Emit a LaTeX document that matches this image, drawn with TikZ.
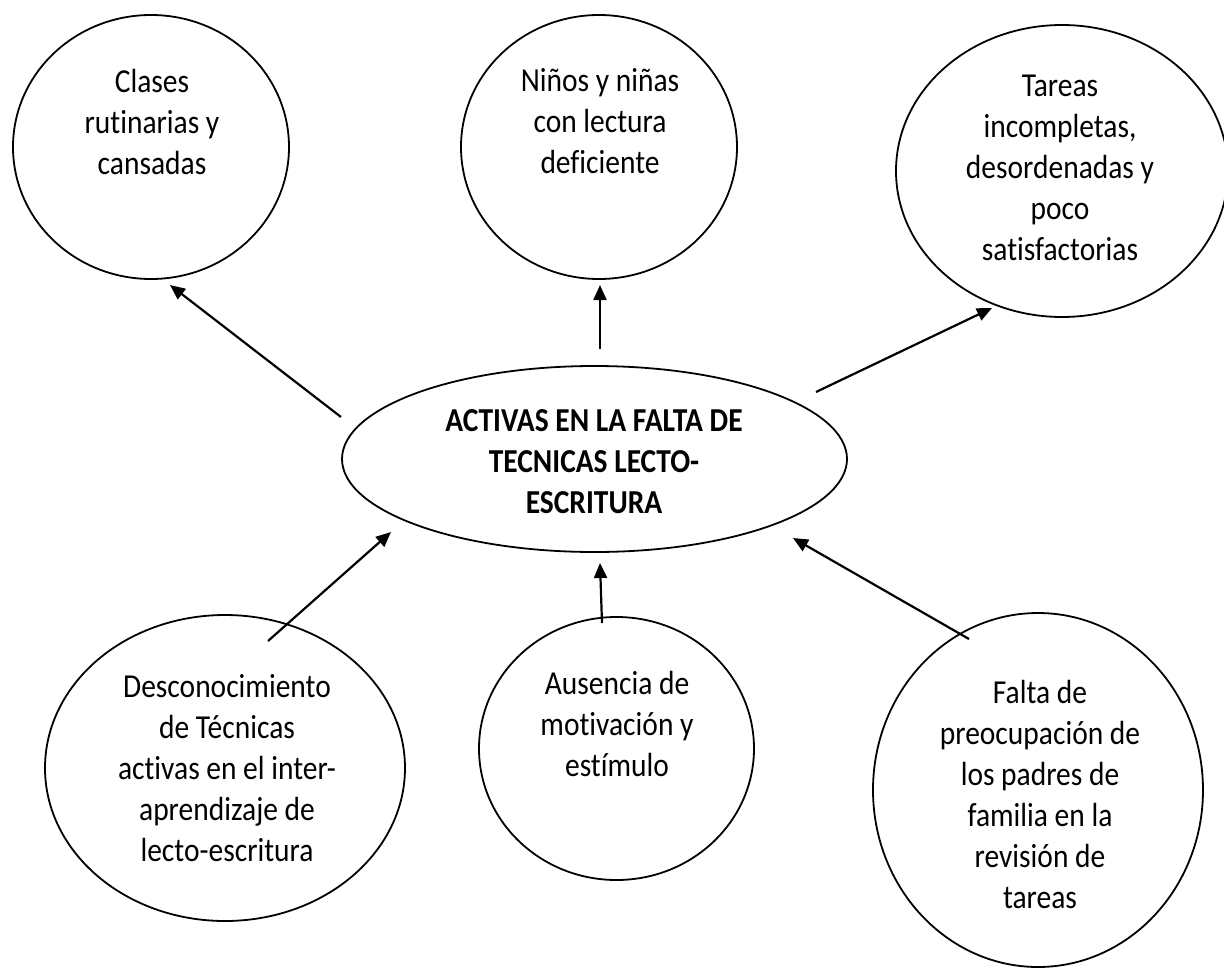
\documentclass[tikz,border=0pt]{standalone}
\usepackage{fontspec}
\setmainfont{Carlito}[FakeStretch=0.88, Ligatures=NoCommon]
\usetikzlibrary{shapes.geometric,arrows.meta}
\begin{document}
\begin{tikzpicture}[x=1pt,y=-1pt,
  bubble/.style={draw, ellipse, line width=1.8pt, inner sep=0pt},
  btext/.style={align=center, font=\fontsize{33.5pt}{41pt}\selectfont, inner sep=0pt},
  conn/.style={line width=2.2pt, -{Triangle[length=15pt,width=13pt]}}]
\useasboundingbox (0,0) rectangle (1224,969);
% bubbles
\node[bubble, minimum width=276pt, minimum height=264pt] (c1) at (151,147) {};
\node[bubble, minimum width=276pt, minimum height=264pt] (c2) at (599,147) {};
\node[bubble, minimum width=332pt, minimum height=292pt] (c3) at (1062,171) {};
\node[bubble, minimum width=505pt, minimum height=186pt] (c0) at (594.5,459) {};
\node[bubble, minimum width=360pt, minimum height=306pt] (c4) at (225,768) {};
\node[bubble, minimum width=275pt, minimum height=263pt] (c5) at (616.5,748.5) {};
\node[bubble, minimum width=330pt, minimum height=354pt] (c6) at (1038,790) {};
% texts
\node[btext] (t1) at (152,121.5) {Clases\\rutinarias y\\cansadas};
\node[btext] (t2) at (600,121.5) {Niños y niñas\\con lectura\\deficiente};
\node[btext] (t3) at (1060,167.5) {Tareas\\incompletas,\\desordenadas y\\poco\\satisfactorias};
\node[btext, font=\fontsize{33.5pt}{41pt}\selectfont\bfseries] (t0) at (594,462) {ACTIVAS EN LA FALTA DE\\TECNICAS LECTO-\\ESCRITURA};
\node[btext] (t4) at (227,768.5) {Desconocimiento\\de Técnicas\\activas en el inter-\\aprendizaje de\\lecto-escritura};
\node[btext] (t5) at (617,723.5) {Ausencia de\\motivación y\\estímulo};
\node[btext] (t6) at (1040,794.5) {Falta de\\preocupación de\\los padres de\\familia en la\\revisión de\\tareas};
% connector ends
\coordinate (a1s) at (341,417); \coordinate (a1e) at (170,285);
\coordinate (a2s) at (600,349); \coordinate (a2e) at (600,285);
\coordinate (a3s) at (816,392); \coordinate (a3e) at (992,308);
\coordinate (a4s) at (268,641); \coordinate (a4e) at (391,532);
\coordinate (a5s) at (602,623); \coordinate (a5e) at (600,563);
\coordinate (a6s) at (969,639); \coordinate (a6e) at (793,538);
\draw[conn] (a1s) -- (a1e);
\draw[conn] (a2s) -- (a2e);
\draw[conn] (a3s) -- (a3e);
\draw[conn] (a4s) -- (a4e);
\draw[conn] (a5s) -- (a5e);
\draw[conn] (a6s) -- (a6e);
\end{tikzpicture}
\end{document}
